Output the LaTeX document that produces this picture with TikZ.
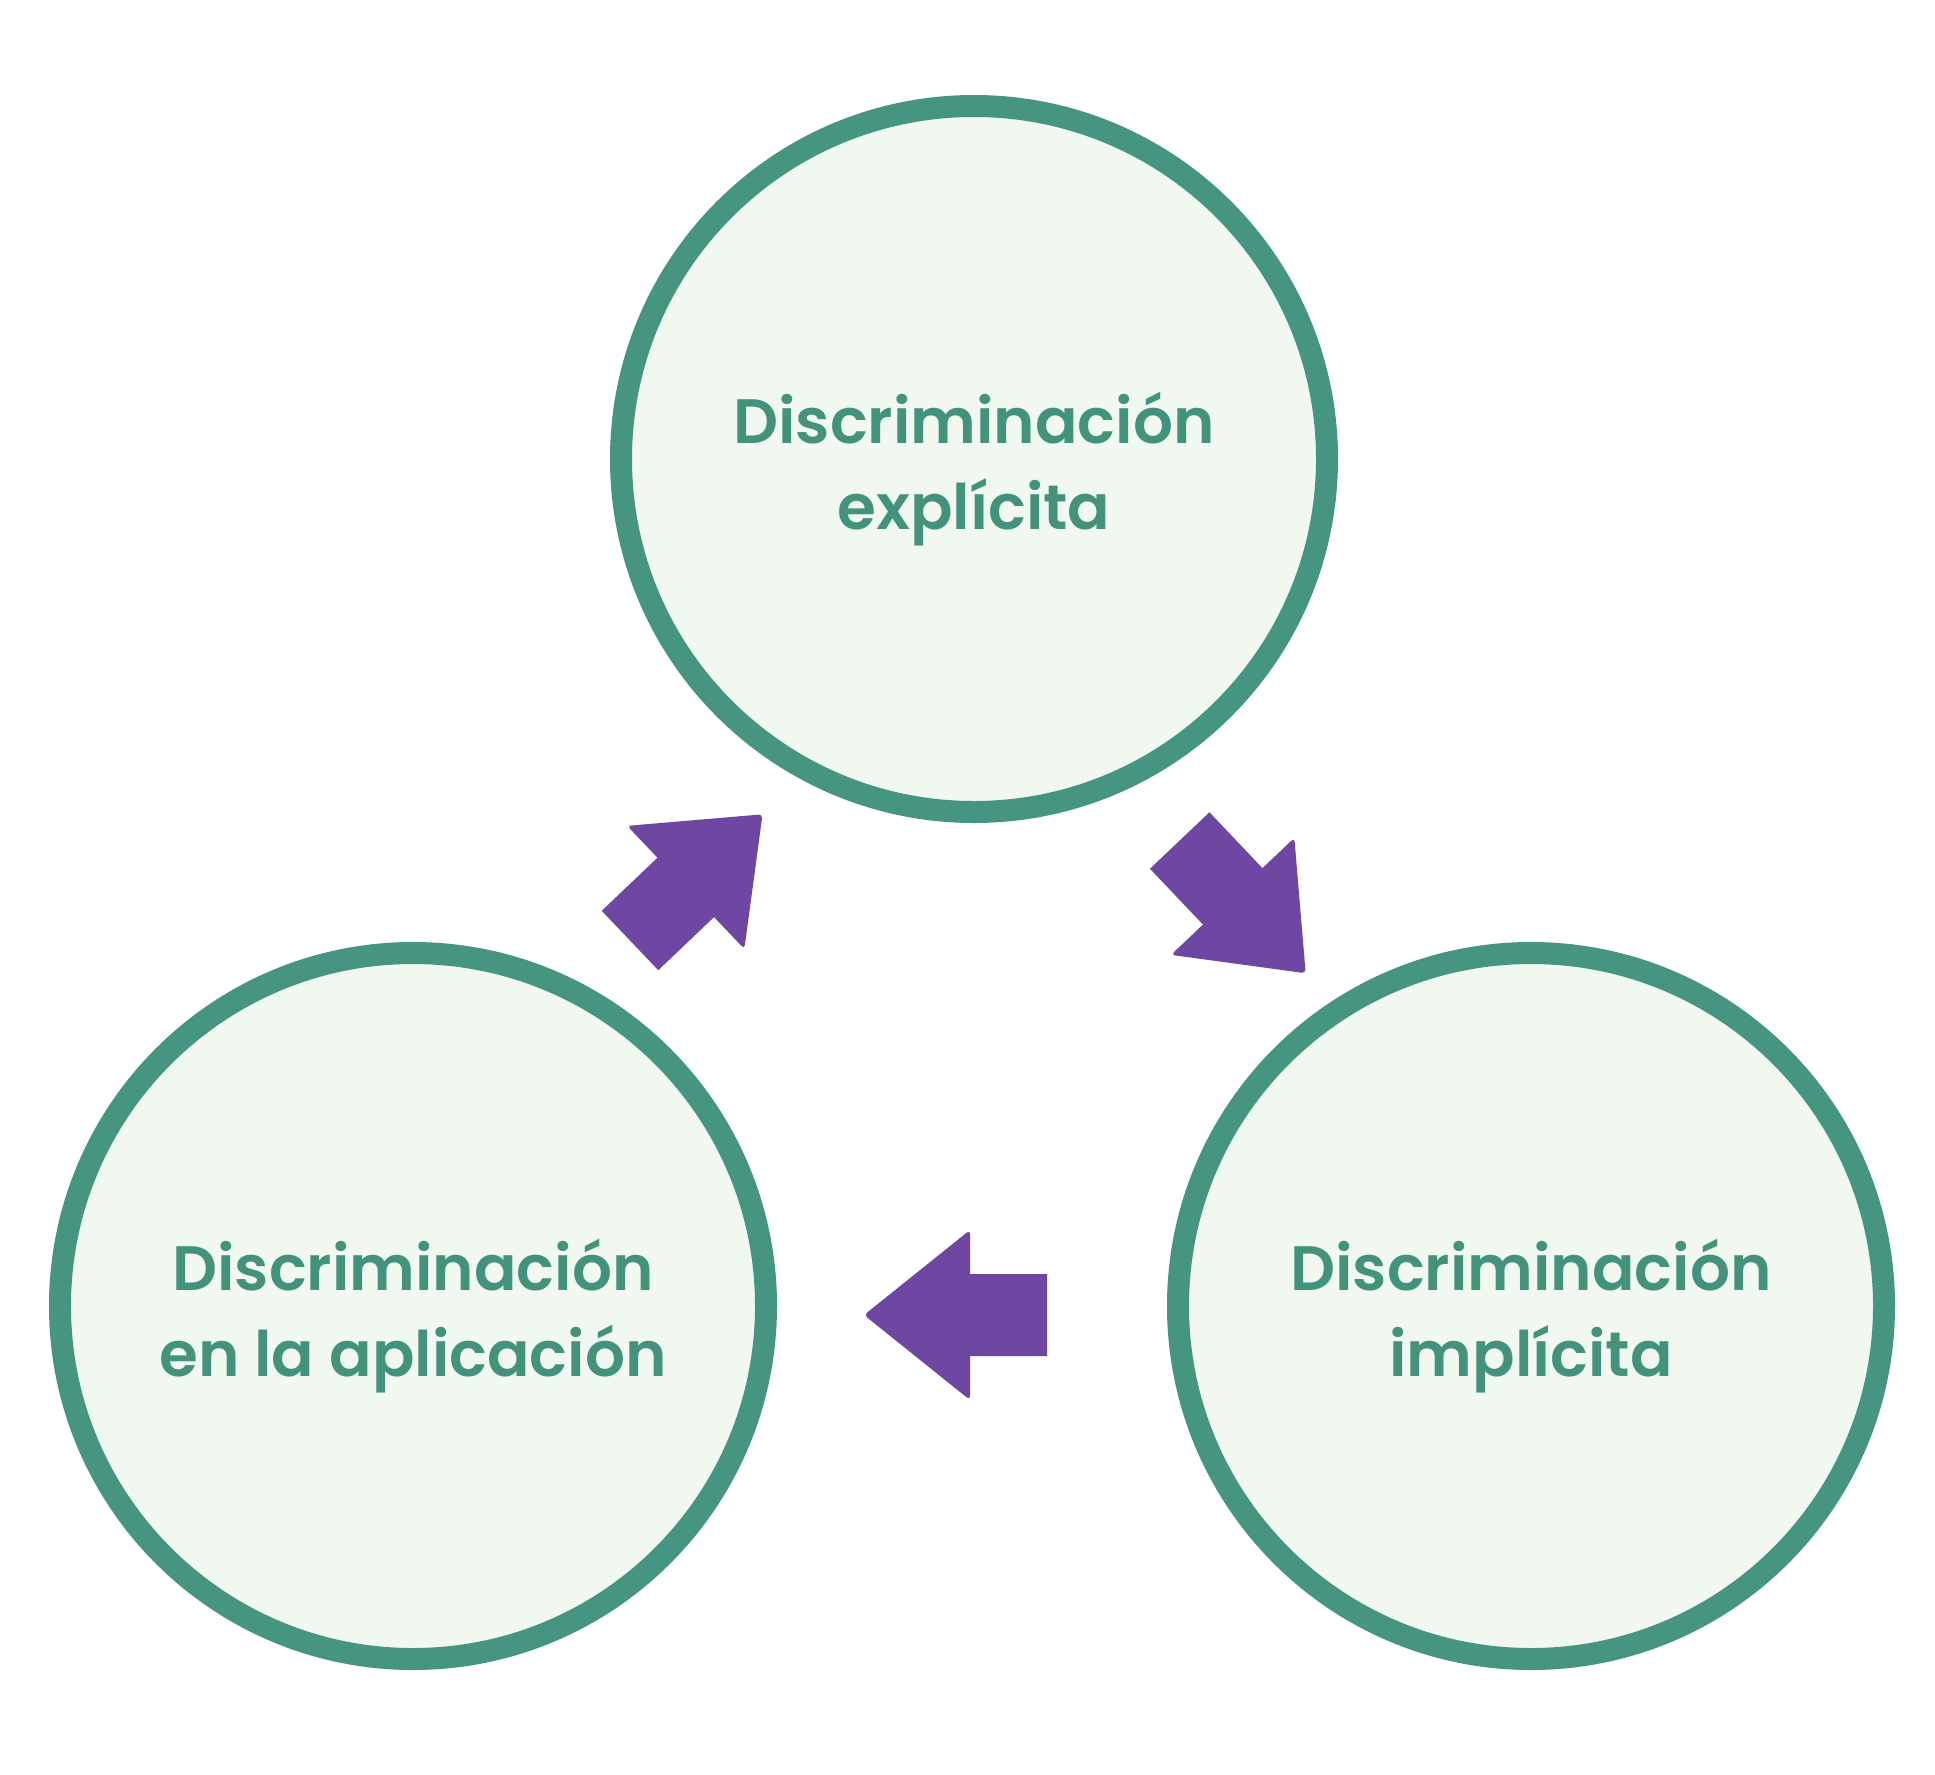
\documentclass[tikz,border=0pt]{standalone}
\usepackage{fontspec}
\setmainfont{Poppins}[BoldFont={Poppins SemiBold}]
\definecolor{cgreen}{HTML}{459580}
\definecolor{cfill}{HTML}{F1F8F0}
\definecolor{cpurple}{HTML}{6D47A2}
\definecolor{ctext}{HTML}{43937C}
\begin{document}
\begin{tikzpicture}[x=1bp,y=-1bp,
  circ/.style={circle, draw=cgreen, fill=cfill, line width=22bp, minimum size=706bp, inner sep=0pt},
  lbl/.style={text=ctext, font=\fontsize{63}{86}\selectfont\bfseries, align=center, inner sep=0pt},
  arr/.style={fill=cpurple}]
\useasboundingbox[fill=white] (0,0) rectangle (1935,1775);
\node[circ] (top) at (974,459) {};
\node[circ] (left) at (413,1306) {};
\node[circ] (right) at (1531,1306) {};
\node[lbl] (toptext) at ([yshift=-10bp]top) {Discriminación\\explícita};
\node[lbl] (lefttext) at ([yshift=-10bp]left) {Discriminación\\en la aplicación};
\node[lbl] (righttext) at ([yshift=-10bp]right) {Discriminación\\implícita};
\fill[arr, shift={(630,940.5)}, rotate=43.6] (0,-41) -- (77,-41) [rounded corners=4bp] -- (77,-85) -- (183,0) -- (77,85) [sharp corners] -- (77,41) -- (0,41) -- cycle;
\fill[arr, shift={(1179.7,840.5)}, rotate=-46.5] (0,-41) -- (77,-41) [rounded corners=4bp] -- (77,-85) -- (183,0) -- (77,85) [sharp corners] -- (77,41) -- (0,41) -- cycle;
\fill[arr, shift={(1047,1315)}, rotate=180] (0,-41) -- (77,-41) [rounded corners=4bp] -- (77,-85) -- (183,0) -- (77,85) [sharp corners] -- (77,41) -- (0,41) -- cycle;
\end{tikzpicture}
\end{document}
